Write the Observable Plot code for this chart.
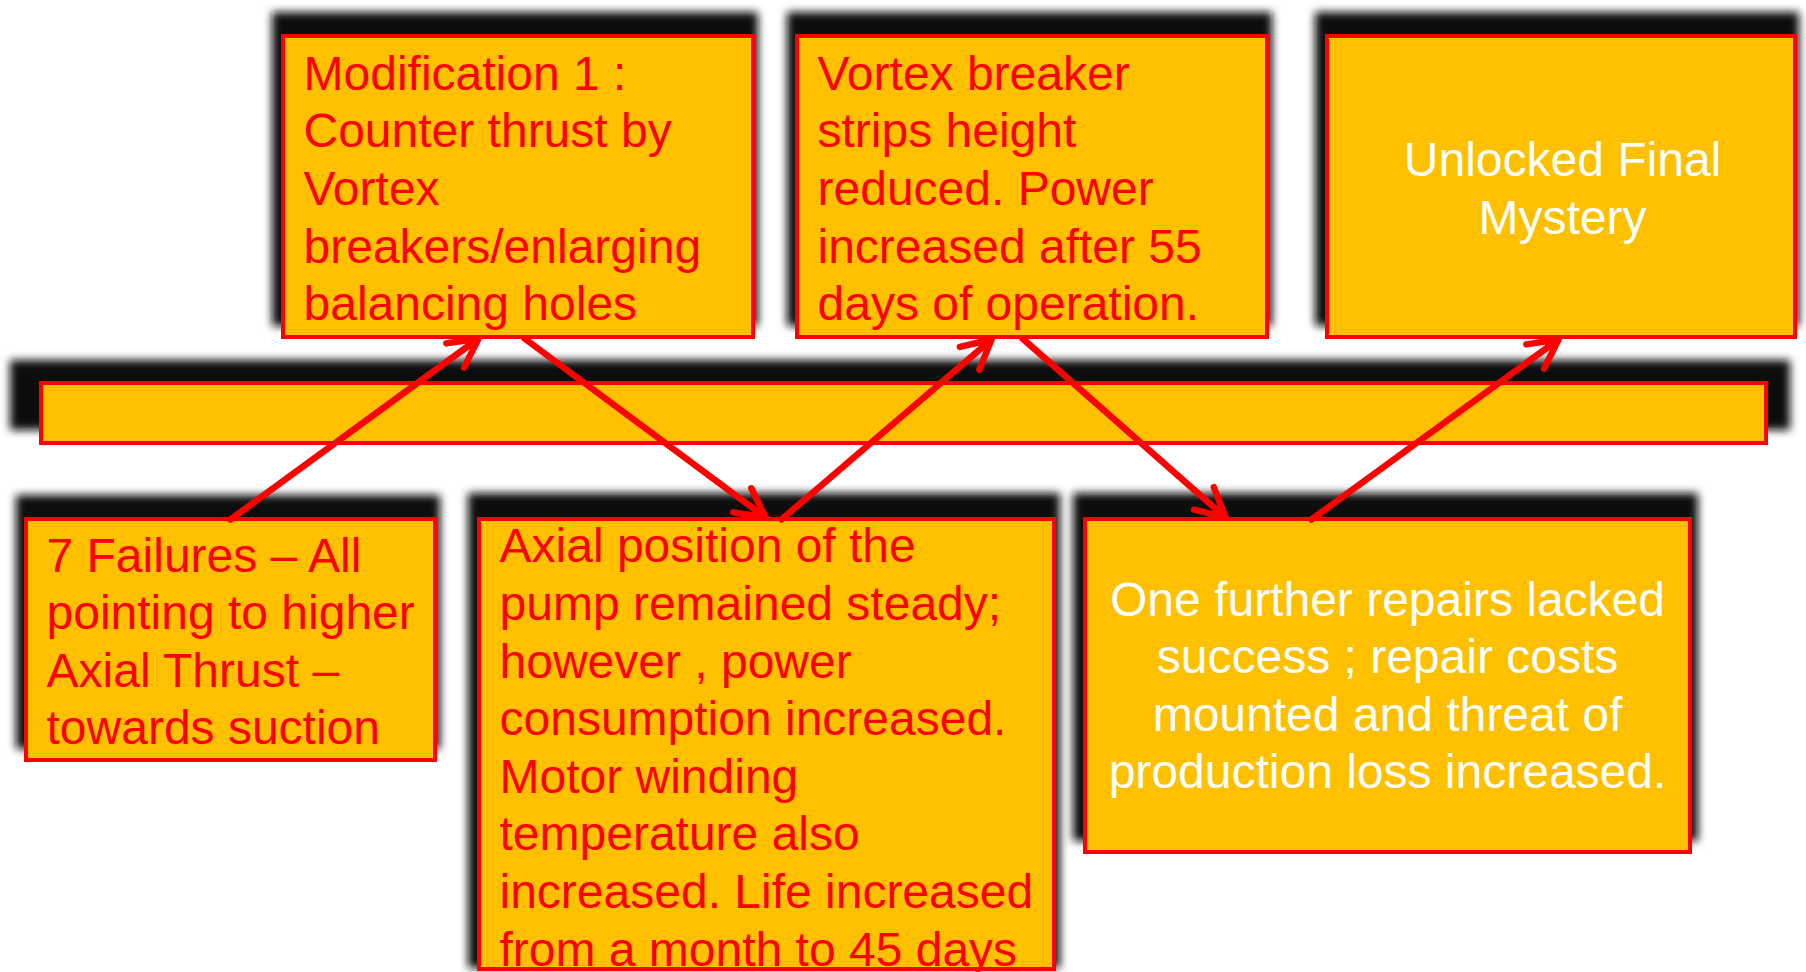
<!DOCTYPE html>
<html>
<head>
<meta charset="utf-8">
<script src="https://cdn.jsdelivr.net/npm/d3@7"></script>
<script src="https://cdn.jsdelivr.net/npm/@observablehq/plot@0.6"></script>
<style>
  html, body { margin: 0; padding: 0; background: #fff; overflow: hidden; }
  #chart svg { display: block; background: #fff; }
</style>
</head>
<body>
<div id="chart"></div>
<script>
// Boxes of the diagram (pixel-space data)
const boxIds   = ["mod1", "vortex", "mystery", "bar", "failures", "axial", "repairs"];
const boxX1    = [283, 797, 1327, 41, 26, 479, 1085];
const boxX2    = [753, 1267, 1795, 1766, 435, 1054, 1690];
const boxY1    = [36, 36, 36, 383, 519, 519, 519];
const boxY2    = [337, 337, 337, 443, 760, 969, 852];
// shadows behind the boxes
const shadowX1 = [272, 787, 1315, 10, 16, 468, 1073];
const shadowX2 = [758, 1272, 1799, 1790, 440, 1060, 1698];
const shadowY1 = [12, 12, 12, 360, 495, 493, 493];
const shadowY2 = [326, 326, 326, 430, 749, 968, 841];

// Texts
const textIds   = ["mod1", "vortex", "mystery", "failures", "axial", "repairs"];
const textLines = [
  ["Modification 1 :", "Counter thrust by", "Vortex", "breakers/enlarging", "balancing holes"],
  ["Vortex breaker", "strips height", "reduced. Power", "increased after 55", "days of operation."],
  ["Unlocked Final", "Mystery"],
  ["7 Failures \u2013 All", "pointing to higher", "Axial Thrust \u2013", "towards suction"],
  ["Axial position of the", "pump remained steady;", "however , power", "consumption increased.", "Motor winding", "temperature also", "increased. Life increased", "from a month to 45 days"],
  ["One further repairs lacked", "success ; repair costs", "mounted and threat of", "production loss increased."]
];
const textX      = [303, 817, 1562, 46, 499, 1387];
const textY      = [186, 186, 186, 639, 745, 683];
const textAlign  = ["start", "start", "middle", "start", "start", "middle"];
const textColor  = ["#FF0000", "#FF0000", "#FFFFFF", "#FF0000", "#FF0000", "#FFFFFF"];

// Arrows
const arrowX1 = [230, 524, 781, 1022, 1311];
const arrowY1 = [519, 338, 519, 338, 519];
const arrowX2 = [478, 765, 991, 1225, 1558];
const arrowY2 = [338, 517, 339, 517, 339];

const W = 1806, H = 972;

const boxes = boxIds.map((id, i) => ({id, x1: boxX1[i], x2: boxX2[i], y1: boxY1[i], y2: boxY2[i]}));
const shadows = boxIds.map((id, i) => ({id, x1: shadowX1[i], x2: shadowX2[i], y1: shadowY1[i], y2: shadowY2[i]}));
const texts = textIds.map((id, i) => ({id, text: textLines[i].join("\n"), x: textX[i], y: textY[i], align: textAlign[i], color: textColor[i]}));
const arrows = arrowX1.map((x1, i) => ({x1, y1: arrowY1[i], x2: arrowX2[i], y2: arrowY2[i]}));

const textMarks = ["start", "middle"].map(a => Plot.text(texts.filter(d => d.align === a), {
  x: "x", y: "y", text: "text", fill: "color",
  textAnchor: a, lineAnchor: "middle", lineHeight: 1.2,
  fontSize: 48, fontFamily: "Liberation Sans, Arial, sans-serif"
}));

const svg = Plot.plot({
  width: W, height: H,
  margin: 0,
  style: {background: "#fff", overflow: "hidden"},
  x: {domain: [0, W], range: [0, W], axis: null},
  y: {domain: [0, H], range: [0, H], axis: null},
  marks: [
    Plot.rect(shadows, {x1: "x1", x2: "x2", y1: "y1", y2: "y2", fill: "#111111", ariaLabel: "shadow"}),
    Plot.rect(boxes, {x1: "x1", x2: "x2", y1: "y1", y2: "y2", fill: "#FFC000", stroke: "#FF0000", strokeWidth: 4}),
    ...textMarks,
    Plot.arrow(arrows, {x1: "x1", y1: "y1", x2: "x2", y2: "y2", stroke: "#FF0000", strokeWidth: 6.5, headLength: 7.5, headAngle: 55, inset: 0})
  ]
});

const ns = "http://www.w3.org/2000/svg";
const defs = document.createElementNS(ns, "defs");
const filter = document.createElementNS(ns, "filter");
filter.setAttribute("id", "shadowBlur");
filter.setAttribute("filterUnits", "userSpaceOnUse");
filter.setAttribute("x", "0"); filter.setAttribute("y", "0");
filter.setAttribute("width", String(W)); filter.setAttribute("height", String(H));
const blur = document.createElementNS(ns, "feGaussianBlur");
blur.setAttribute("stdDeviation", "4");
filter.appendChild(blur);
defs.appendChild(filter);
svg.insertBefore(defs, svg.firstChild);
// first rect group = shadows
const groups = Array.from(svg.querySelectorAll("g")).filter(g => g.querySelector(":scope > rect"));
const sg = svg.querySelector('g[aria-label="shadow"]') || groups[0];
if (sg) sg.setAttribute("filter", "url(#shadowBlur)");

document.getElementById("chart").appendChild(svg);
</script>
</body>
</html>
